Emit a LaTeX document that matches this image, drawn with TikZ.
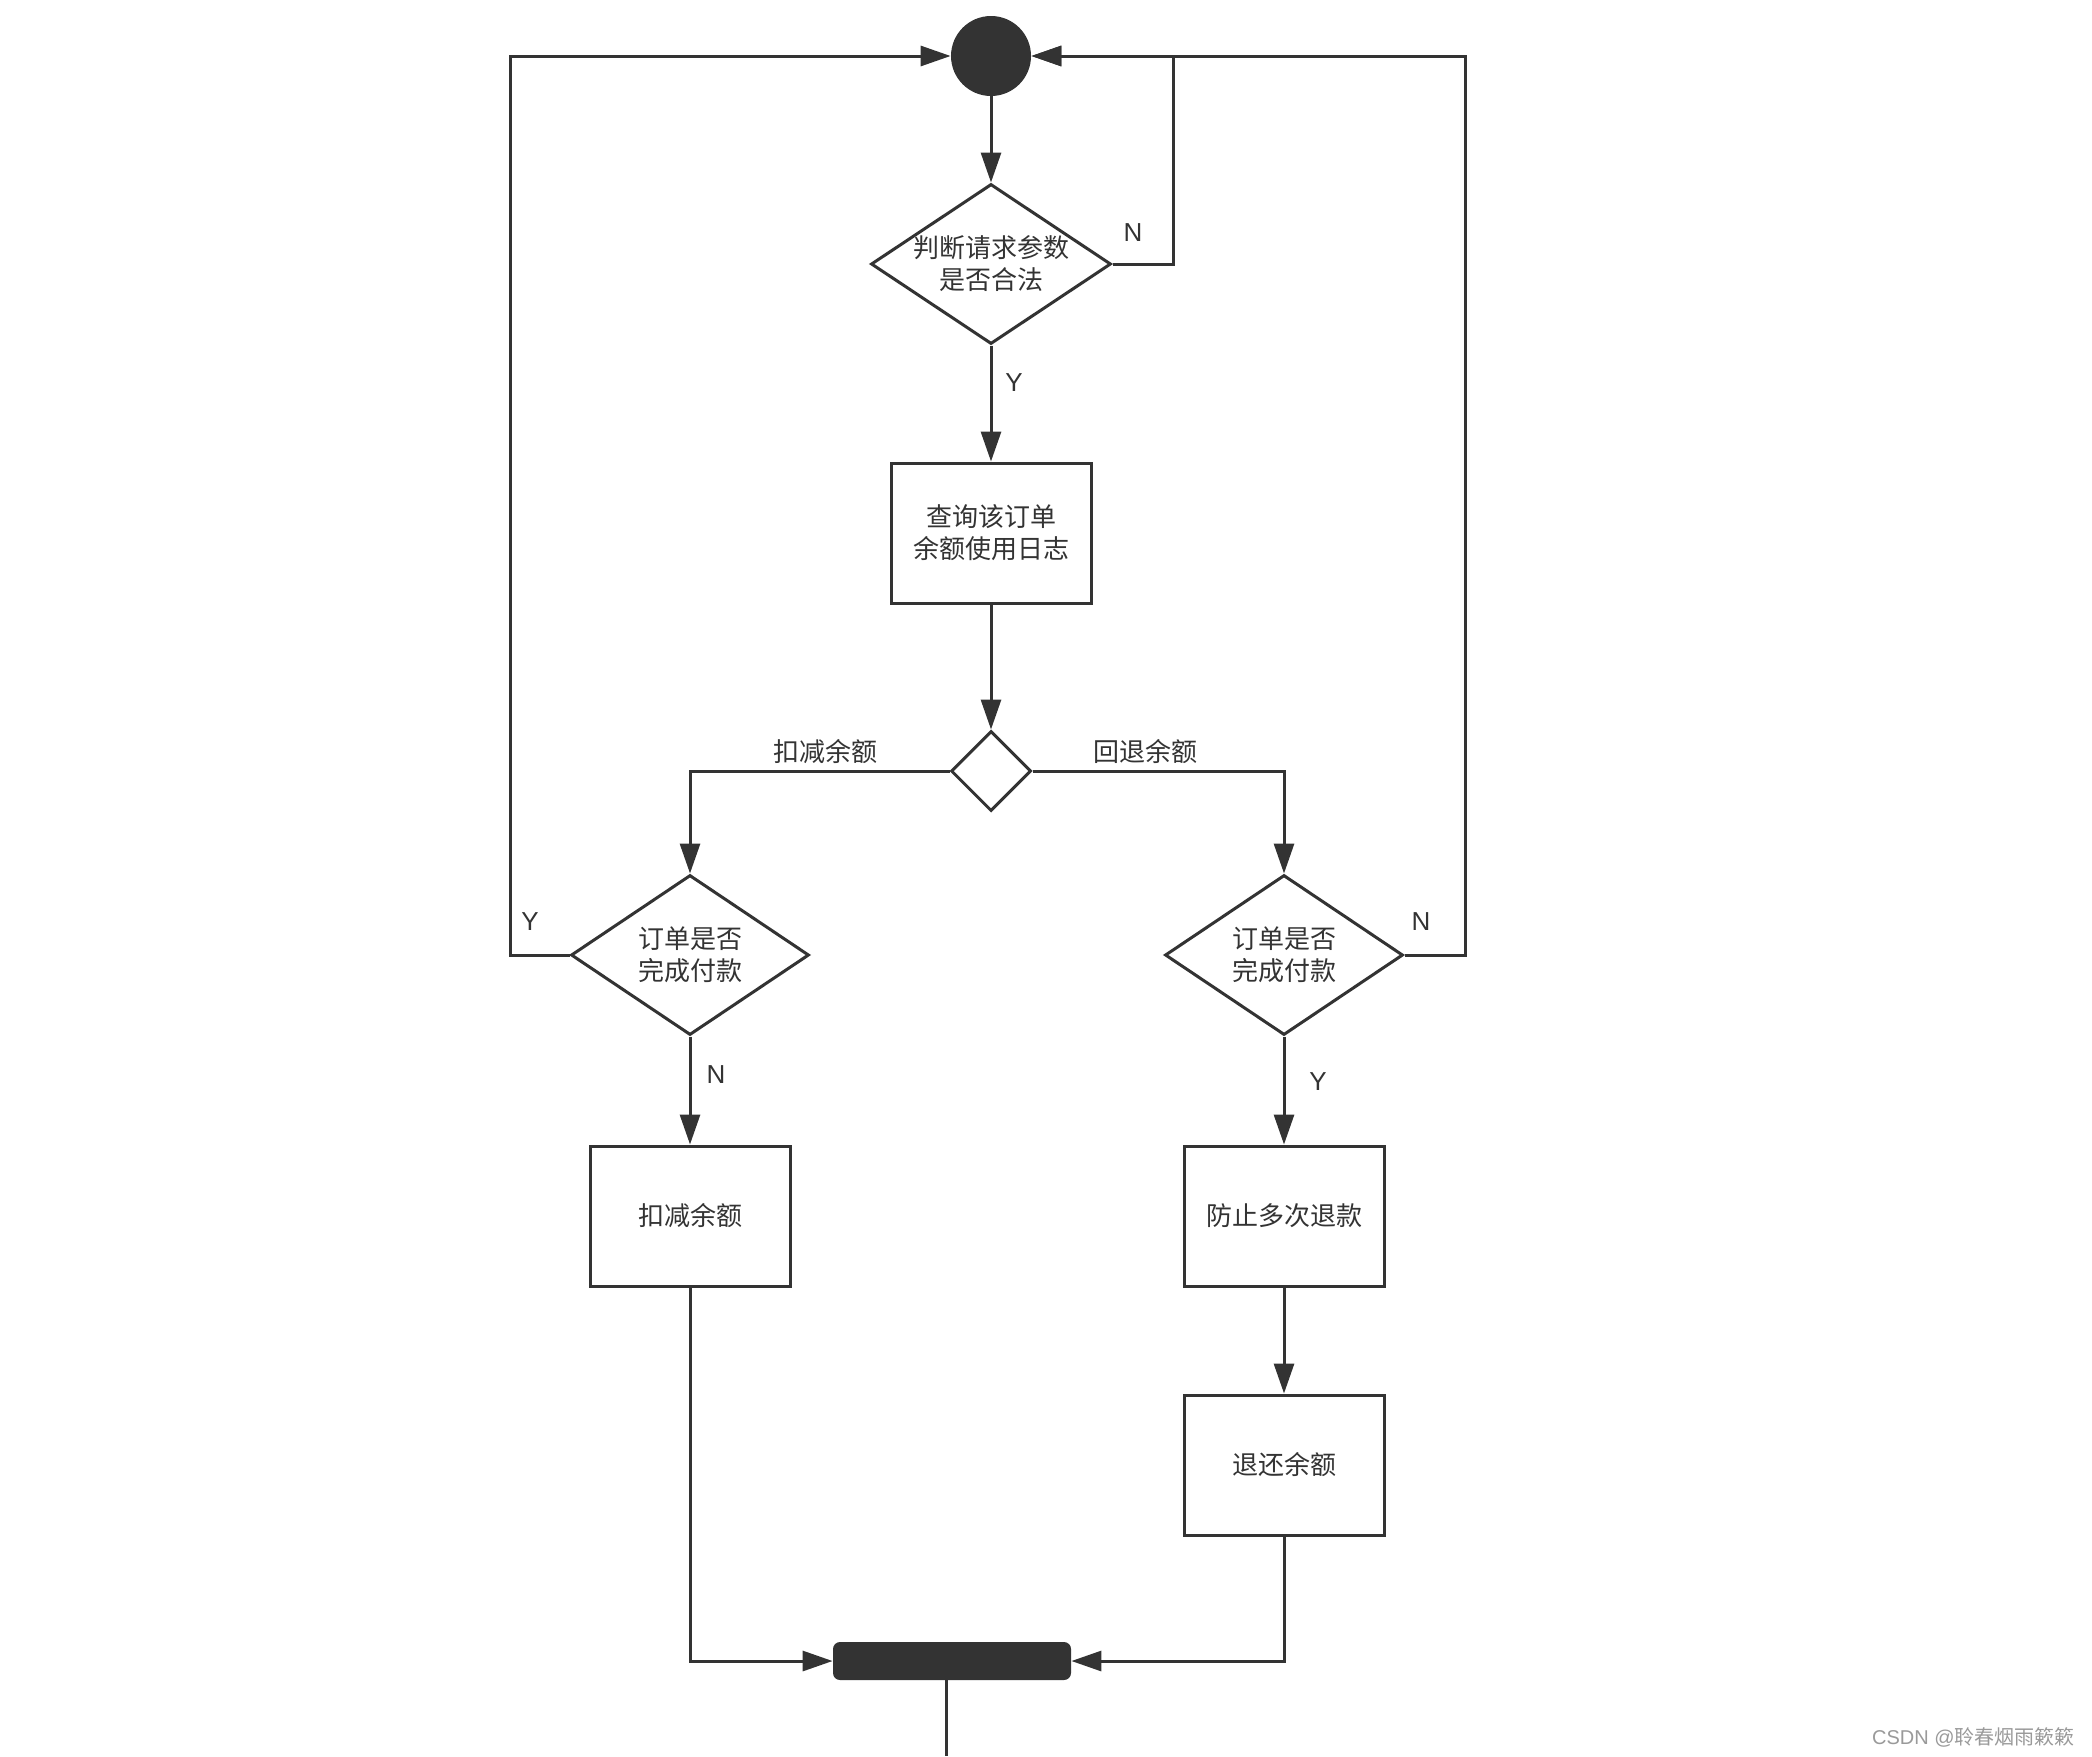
\documentclass[tikz,border=0pt]{standalone}
\usepackage{fontspec}
\setmainfont{Liberation Sans}
\newfontfamily\cjk{Noto Sans CJK SC}
\usetikzlibrary{shapes.geometric,arrows.meta}
\definecolor{ink}{HTML}{333333}
\definecolor{wm}{HTML}{9A9A9A}
\tikzset{
  conn/.style={draw=ink,line width=1.5pt},
  arr/.style={conn,-{Triangle[length=15pt,width=10pt]}},
  box/.style={draw=ink,line width=1.5pt,rectangle,minimum width=100pt,minimum height=70pt,inner sep=0pt},
  dia/.style={draw=ink,line width=1.5pt,diamond,inner sep=0pt},
  txt/.style={text=ink,font=\cjk\fontsize{13pt}{16pt}\selectfont,align=center,inner sep=0pt},
  lab/.style={text=ink,font=\fontsize{13pt}{16pt}\selectfont,inner sep=0pt},
}
\begin{document}
\begin{tikzpicture}[x=0.5pt,y=-0.5pt]
\useasboundingbox[fill=white] (0,0) rectangle (2092,1756);
% nodes
\node[ellipse,fill=ink,minimum width=40pt,minimum height=40pt,inner sep=0pt] (start) at (991,56) {};
\node[dia,minimum width=120pt,minimum height=80pt] (d1) at (991,264) {};
\node[txt] (t1) at (d1) {判断请求参数\\是否合法};
\node[box,txt,draw=ink] (b1) at (991,533) {查询该订单\\余额使用日志};
\node[dia,minimum width=40pt,minimum height=40pt] (d2) at (991,771) {};
\node[dia,minimum width=119pt,minimum height=80pt] (ld) at (690,955) {};
\node[txt] (tl) at (ld) {订单是否\\完成付款};
\node[dia,minimum width=119pt,minimum height=80pt] (rd) at (1284,955) {};
\node[txt] (tr) at (rd) {订单是否\\完成付款};
\node[box,txt,draw=ink] (b2) at (690,1216) {扣减余额};
\node[box,txt,draw=ink] (b3) at (1284,1216) {防止多次退款};
\node[box,txt,draw=ink] (b4) at (1284,1465) {退还余额};
\node[rectangle,rounded corners=3.5pt,fill=ink,minimum width=119pt,minimum height=19pt,inner sep=0pt] (bar) at (952,1661) {};
% coordinates
\coordinate (nr) at (1173,56);
\coordinate (rr) at (1465,56);
\coordinate (yl) at (510,955);
\coordinate (endc) at (946,1756);
% connectors
\draw[arr] (start) -- (d1.north);
\draw[arr] (d1.east) -| (nr) -- (start.east);
\draw[arr] (rd.east) -| (rr) -- (start.east);
\draw[arr] (ld.west) -| (yl) |- (start.west);
\draw[arr] (d1.south) -- (b1.north);
\draw[arr] (b1.south) -- (d2.north);
\draw[arr] (d2.west) -| (ld.north);
\draw[arr] (d2.east) -| (rd.north);
\draw[arr] (ld.south) -- (b2.north);
\draw[arr] (rd.south) -- (b3.north);
\draw[arr] (b3.south) -- (b4.north);
\draw[arr] (b2.south) |- (bar.west);
\draw[arr] (b4.south) |- (bar.east);
\draw[conn] (bar.south -| endc) -- (endc);
% labels
\node[lab] (ln1) at (1133,233) {N};
\node[lab] (ly1) at (1014,383) {Y};
\node[txt] (lk) at (825,752) {扣减余额};
\node[txt] (lh) at (1145,752) {回退余额};
\node[lab] (ly2) at (530,922) {Y};
\node[lab] (ln2) at (1421,922) {N};
\node[lab] (ln3) at (716,1075) {N};
\node[lab] (ly3) at (1318,1082) {Y};
\node[text=wm,anchor=east,inner sep=0pt,font=\cjk\fontsize{10pt}{12pt}\selectfont] (wmk) at (2075,1737) {{\fontspec{Liberation Sans}CSDN @}聆春烟雨簌簌};
\end{tikzpicture}
\end{document}
